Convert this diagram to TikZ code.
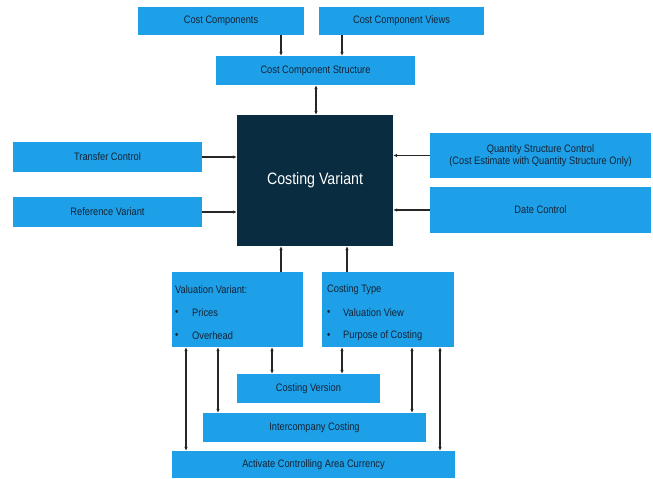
\documentclass[tikz,border=0pt]{standalone}
\usepackage{fontspec}
\setmainfont[FakeStretch=0.86]{Liberation Sans}
\usetikzlibrary{arrows.meta}
\definecolor{cblue}{RGB}{30,160,232}
\definecolor{cdark}{RGB}{10,44,64}
\definecolor{ctext}{RGB}{20,34,52}
\tikzset{
  box/.style={fill=cblue, inner sep=0pt, text=ctext, font=\fontsize{10.8}{12.5}\selectfont, align=center},
  txt/.style={inner sep=0pt, text=ctext, font=\fontsize{10.8}{12.5}\selectfont, anchor=west},
  arr/.style={line width=1.1pt, draw=black!85, -{Latex[length=4pt,width=3.6pt]}},
  darr/.style={line width=1.1pt, draw=black!85, {Latex[length=4pt,width=3.6pt]}-{Latex[length=4pt,width=3.6pt]}}
}
\begin{document}
\begin{tikzpicture}[x=1pt,y=-1pt]
\useasboundingbox (0,0) rectangle (653,479);
\fill[white] (0,0) rectangle (653,479);
% boxes
\node[box, minimum width=166, minimum height=28] (cc) at (221,21) {Cost Components};
\node[box, minimum width=165, minimum height=28] (ccv) at (401.5,21) {Cost Component Views};
\node[box, minimum width=199, minimum height=29] (ccs) at (315.5,70.5) {Cost Component Structure};
\node[fill=cdark, inner sep=0pt, minimum width=156, minimum height=131, text=white, font=\fontsize{16.5}{19}\selectfont] (cv) at (315,180.5) {Costing Variant};
\node[box, minimum width=189, minimum height=30] (tc) at (107.5,157) {Transfer Control};
\node[box, minimum width=189, minimum height=30] (rv) at (107.5,212) {Reference Variant};
\node[box, minimum width=221, minimum height=45] (qsc) at (540.5,155.5) {Quantity Structure Control\\(Cost Estimate with Quantity Structure Only)};
\node[box, minimum width=221, minimum height=46] (dc) at (540.5,210) {Date Control};
\node[box, minimum width=131, minimum height=75] (vv) at (237.5,309.5) {};
\node[box, minimum width=132, minimum height=75] (ct) at (388,309.5) {};
\node[box, minimum width=143, minimum height=29] (cver) at (308.5,388.5) {Costing Version};
\node[box, minimum width=223, minimum height=29] (ic) at (314.5,427.5) {Intercompany Costing};
\node[box, minimum width=283, minimum height=27] (acac) at (313.5,464.5) {Activate Controlling Area Currency};
% list texts
\node[txt] (vvt) at (175,290) {Valuation Variant:};
\node[txt] (vvb1) at (175,313) {\textbullet};
\node[txt] (vvi1) at (192,313) {Prices};
\node[txt] (vvb2) at (175,336) {\textbullet};
\node[txt] (vvi2) at (192,336) {Overhead};
\node[txt] (ctt) at (327,290) {Costing Type};
\node[txt] (ctb1) at (327,313) {\textbullet};
\node[txt] (cti1) at (343,313) {Valuation View};
\node[txt] (ctb2) at (327,336) {\textbullet};
\node[txt] (cti2) at (343,336) {Purpose of Costing};
% connectors
\draw[arr] (281,0 |- cc.south) -- (281,0 |- ccs.north);
\draw[arr] (342,0 |- ccv.south) -- (342,0 |- ccs.north);
\draw[darr] (316,0 |- ccs.south) -- (316,0 |- cv.north);
\draw[arr] (tc.east) -- (tc.east -| cv.west);
\draw[arr] (rv.east) -- (rv.east -| cv.west);
\draw[arr] (qsc.west) -- (qsc.west -| cv.east);
\draw[arr] (dc.west) -- (dc.west -| cv.east);
\draw[arr] (281,0 |- vv.north) -- (281,0 |- cv.south);
\draw[arr] (347,0 |- ct.north) -- (347,0 |- cv.south);
\draw[darr] (186,0 |- vv.south) -- (186,0 |- acac.north);
\draw[darr] (218,0 |- vv.south) -- (218,0 |- ic.north);
\draw[darr] (272,0 |- vv.south) -- (272,0 |- cver.north);
\draw[darr] (342,0 |- ct.south) -- (342,0 |- cver.north);
\draw[darr] (412,0 |- ct.south) -- (412,0 |- ic.north);
\draw[darr] (440,0 |- ct.south) -- (440,0 |- acac.north);
\end{tikzpicture}
\end{document}
